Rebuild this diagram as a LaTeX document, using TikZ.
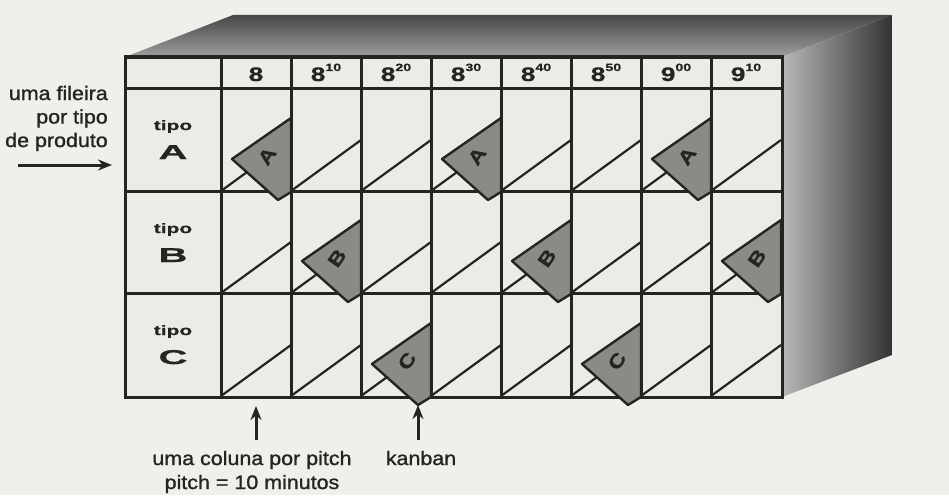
\documentclass[tikz,border=0pt]{standalone}
\usepackage{fontspec}
\usetikzlibrary{arrows.meta}
\setmainfont{Liberation Sans}
\newfontfamily\lblfont[FakeStretch=1.1,FakeBold=1.2]{Liberation Sans}
\newfontfamily\hdfont[FakeStretch=1.35,FakeBold=0.8]{Liberation Sans}
\newfontfamily\bigfont[FakeStretch=2.0,FakeBold=0.8]{Liberation Sans}
\newfontfamily\tipofont[FakeStretch=1.55,FakeBold=0.6]{Liberation Sans}
\newfontfamily\cardfont[FakeStretch=1.25,FakeBold=0.8]{Liberation Sans}
\definecolor{paper}{RGB}{241,239,235}
\definecolor{cellbg}{RGB}{237,235,231}
\definecolor{ink}{RGB}{38,36,34}
\definecolor{cardgray}{RGB}{140,138,134}
\newcommand\hh[2]{{\fontsize{19.5}{19.5}\selectfont\hdfont\bfseries #1}\raisebox{10pt}{\fontsize{10.5}{10.5}\selectfont\hdfont\bfseries #2}}
\begin{document}
\begin{tikzpicture}[x=1pt,y=-1pt,
  gridline/.style={draw=ink,line width=3pt},
  slot/.style={draw=ink,line width=2.2pt},
  cardshape/.style={fill=cardgray,draw=ink,line width=2.4pt,line join=round},
  cardtxt/.style={text=ink,rotate=55,inner sep=0pt},
  hdr/.style={anchor=base,inner sep=0pt,text=ink},
  tipotxt/.style={anchor=base,inner sep=0pt,text=ink,font=\fontsize{13.5}{13.5}\selectfont\tipofont\bfseries},
  bigtxt/.style={anchor=base,inner sep=0pt,text=ink,font=\fontsize{20}{20}\selectfont\bigfont\bfseries},
  lbl/.style={inner sep=0pt,text=ink,font=\fontsize{19.5}{19.5}\selectfont\lblfont},
  arr/.style={draw=ink,line width=3pt,-{Stealth[length=14pt,width=11pt]}}]
\useasboundingbox (0,0) rectangle (949,495);
\fill[paper] (0,0) rectangle (949,495);
% 3D box
\shade[top color=black!72, bottom color=black!38] (125,57) -- (233,15) -- (892,15) -- (782,57) -- cycle;
\shade[left color=black!28, right color=black!80] (782,57) -- (892,15) -- (892,355) -- (782,397) -- cycle;
% grid
\fill[cellbg] (125,57) rectangle (782,397);
\foreach \x in {221,291,361,431,501,571,641,711}
  \foreach \b in {191,293,396}
    \draw[slot] (\x,\b) -- (\x+70,\b-51);
\foreach \x in {221,291,361,431,501,571,641,711}
  \draw[gridline] (\x,57) -- (\x,397);
\foreach \y in {88,191,293}
  \draw[gridline] (125,\y) -- (782,\y);
\draw[gridline] (125,57) rectangle (782,397);
% header
\node[hdr] (h1) at (256,81) {\hh{8}{}};
\node[hdr] (h2) at (326,81) {\hh{8}{10}};
\node[hdr] (h3) at (396,81) {\hh{8}{20}};
\node[hdr] (h4) at (466,81) {\hh{8}{30}};
\node[hdr] (h5) at (536,81) {\hh{8}{40}};
\node[hdr] (h6) at (606,81) {\hh{8}{50}};
\node[hdr] (h7) at (676,81) {\hh{9}{00}};
\node[hdr] (h8) at (746,81) {\hh{9}{10}};
% row labels
\node[tipotxt] (tA) at (173,130) {tipo};
\node[bigtxt] (lA) at (173,159) {A};
\node[tipotxt] (tB) at (173,233) {tipo};
\node[bigtxt] (lB) at (173,262) {B};
\node[tipotxt] (tC) at (173,335) {tipo};
\node[bigtxt] (lC) at (173,364) {C};
% kanban cards: right x of cell, bottom y of row
\foreach \xr/\yb/\lt/\n in {291/191/A/kA1, 501/191/A/kA2, 711/191/A/kA3,
                          361/293/B/kB1, 571/293/B/kB2, 781/293/B/kB3,
                          431/396/C/kC1, 641/396/C/kC2}{
  \filldraw[cardshape] (\xr,\yb-73) -- (\xr-59,\yb-32) -- (\xr-13,\yb+9) -- (\xr,\yb+1) -- cycle;
  \node[cardtxt] (\n) at (\xr-24,\yb-35) {\fontsize{19}{19}\selectfont\cardfont\bfseries \lt};
}
% left labels
\node[lbl,anchor=base east] (f1) at (108,100) {uma fileira};
\node[lbl,anchor=base east] (f2) at (108,123.5) {por tipo};
\node[lbl,anchor=base east] (f3) at (108,147) {de produto};
\coordinate (fa) at (18,165);
\coordinate (fb) at (112,165);
\draw[arr] (fa) -- (fb);
% bottom labels
\node[lbl,anchor=base] (c1) at (252,465) {uma coluna por pitch};
\node[lbl,anchor=base] (c2) at (252,489) {pitch = 10 minutos};
\node[lbl,anchor=base] (kb) at (421,465) {kanban};
\coordinate (ca) at (256,440);
\coordinate (cb) at (256,406);
\coordinate (ka) at (418,440);
\coordinate (kt) at (418,405);
\draw[arr] (ca) -- (cb);
\draw[arr] (ka) -- (kt);
\end{tikzpicture}
\end{document}
